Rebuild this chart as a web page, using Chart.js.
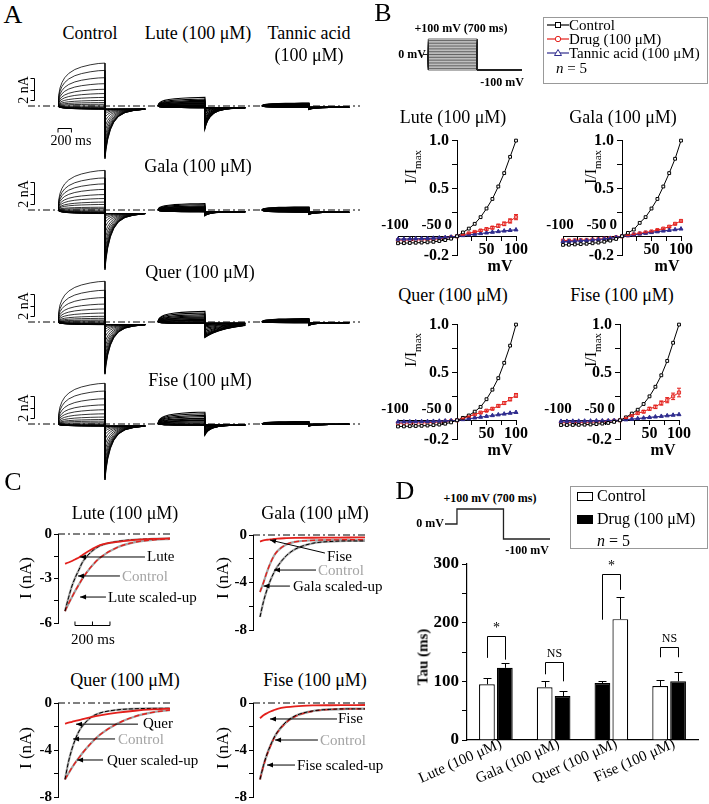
<!DOCTYPE html>
<html>
<head>
<meta charset="utf-8">
<script src="https://cdn.jsdelivr.net/npm/chart.js@4.4.0/dist/chart.umd.min.js"></script>
<style>
  body { margin: 0; background: #fff; }
  #fig { position: relative; width: 709px; height: 804px; overflow: hidden;
         font-family: 'Liberation Serif', 'Times New Roman', serif; color: #000; }
  #fig canvas { position: absolute; }
  .t { position: absolute; white-space: nowrap; line-height: 1; }
  .box { position: absolute; border: 1px solid #999; box-sizing: border-box; }
</style>
</head>
<body>
<div id="fig"></div>
<script>
(function() {

  "use strict";

  // ---------- data ----------
  var sweepMV = [-100,-90,-80,-70,-60,-50,-40,-30,-20,-10,0,10,20,30,40,50,60,70,80,90,100];

  // panel B, I/Imax
  var luteCtrl   = [-0.073,-0.072,-0.07,-0.068,-0.066,-0.063,-0.058,-0.05,-0.04,-0.025,0,0.04,0.08,0.13,0.2,0.29,0.39,0.52,0.66,0.83,1.0];
  var luteDrug   = [-0.04,-0.04,-0.039,-0.038,-0.036,-0.034,-0.031,-0.027,-0.02,-0.01,0,0.015,0.03,0.045,0.06,0.075,0.09,0.11,0.13,0.16,0.2];
  var luteErr    = [0,0,0,0,0,0,0,0,0,0,0,0.004,0.005,0.007,0.009,0.011,0.013,0.016,0.019,0.022,0.027];
  var luteTannic = [-0.03,-0.029,-0.028,-0.026,-0.024,-0.022,-0.019,-0.016,-0.012,-0.007,0,0.008,0.015,0.022,0.029,0.036,0.043,0.05,0.056,0.062,0.068];

  var galaCtrl   = [-0.09,-0.088,-0.085,-0.082,-0.078,-0.073,-0.066,-0.057,-0.045,-0.028,0,0.035,0.07,0.14,0.2,0.29,0.39,0.52,0.66,0.81,1.0];
  var galaDrug   = [-0.045,-0.044,-0.042,-0.04,-0.038,-0.035,-0.031,-0.026,-0.02,-0.011,0,0.01,0.02,0.03,0.04,0.05,0.065,0.08,0.1,0.13,0.16];
  var galaErr    = [0,0,0,0,0,0,0,0,0,0,0,0.003,0.003,0.004,0.004,0.005,0.006,0.007,0.008,0.009,0.011];
  var galaTannic = [-0.055,-0.053,-0.05,-0.047,-0.043,-0.039,-0.034,-0.028,-0.02,-0.011,0,0.008,0.016,0.024,0.032,0.04,0.048,0.056,0.063,0.07,0.077];

  var querCtrl   = [-0.065,-0.064,-0.062,-0.06,-0.058,-0.055,-0.051,-0.045,-0.036,-0.022,0,0.025,0.05,0.09,0.14,0.22,0.32,0.44,0.6,0.78,1.0];
  var querDrug   = [-0.03,-0.03,-0.029,-0.028,-0.027,-0.025,-0.022,-0.019,-0.014,-0.008,0,0.02,0.04,0.06,0.08,0.1,0.12,0.15,0.18,0.22,0.26];
  var querErr    = [0,0,0,0,0,0,0,0,0,0,0,0.004,0.005,0.006,0.007,0.008,0.01,0.012,0.014,0.017,0.02];
  var querTannic = [-0.017,-0.016,-0.015,-0.014,-0.013,-0.012,-0.01,-0.008,-0.006,-0.003,0,0.008,0.016,0.025,0.033,0.042,0.05,0.058,0.066,0.075,0.083];

  var fiseCtrl   = [-0.05,-0.05,-0.049,-0.048,-0.046,-0.044,-0.04,-0.035,-0.028,-0.017,0,0.03,0.07,0.11,0.17,0.25,0.35,0.47,0.62,0.81,1.0];
  var fiseDrug   = [-0.025,-0.025,-0.024,-0.023,-0.022,-0.02,-0.018,-0.015,-0.011,-0.006,0,0.025,0.05,0.075,0.09,0.12,0.14,0.18,0.21,0.25,0.29];
  var fiseErr    = [0,0,0,0,0,0,0,0,0,0,0,0.006,0.008,0.01,0.012,0.015,0.018,0.022,0.027,0.034,0.045];
  var fiseTannic = [-0.01,-0.01,-0.009,-0.009,-0.008,-0.007,-0.006,-0.005,-0.004,-0.002,0,0.006,0.012,0.018,0.024,0.03,0.036,0.042,0.048,0.054,0.06];

  var ivXTicks = [-100,-75,-50,-25,0,25,50,75,100];
  var ivYTicks = [-0.2,0,0.25,0.5,0.75,1.0];
  var ivTopLabels = [-100,-50,0];

  // panel A, current traces (nA) built from the I/Imax values above
  var aTimes    = [0,10,30,60,100,160,250,350,480,600,700];
  var aRise     = [0,0.25,0.42,0.55,0.66,0.76,0.85,0.91,0.96,0.99,1.0];
  var aTailT    = [0,15,40,80,130,200,300,420,600];
  var aTailFast = [1,0.82,0.62,0.42,0.27,0.15,0.07,0.03,0];
  var aTailSlow = [1,0.95,0.88,0.78,0.67,0.54,0.4,0.28,0.15];
  var aTailFrac = [0,0,0,0,0,0,0.02,0.05,0.1,0.17,0.26,0.37,0.48,0.59,0.69,0.78,0.85,0.9,0.94,0.97,1.0];
  var aImax     = [3.9,3.6,3.7,3.7];
  var aTailCtrl = [-4.5,-5.1,-4.5,-4.9];
  var aTailDrug = [-1.9,-0.35,-1.3,-0.9];
  var aTailTan  = [-0.2,-0.2,-0.25,-0.15];

  // panel B / D voltage protocols
  var protoT  = [-75,0,0,700,700,1340];
  var protoT2 = [-180,0,0,700,700,1400];
  var protoV  = [0,0,100,100,-100,-100];

  // panel C, tail currents (nA)
  var tC = [0,20,40,60,80,100,150,200,300,400,500,600];
  var cLuteCtrl   = [-5.2,-4.3,-3.5,-2.9,-2.4,-1.9,-1.2,-0.8,-0.5,-0.38,-0.33,-0.3];
  var cLuteScaled = [-5.2,-4.7,-4.25,-3.8,-3.4,-3.0,-2.2,-1.6,-0.9,-0.55,-0.4,-0.33];
  var cLuteRaw    = [-2.0,-1.92,-1.82,-1.7,-1.58,-1.42,-1.05,-0.75,-0.53,-0.4,-0.33,-0.3];
  var cGalaCtrl   = [-6.9,-5.6,-4.6,-3.8,-3.15,-2.65,-1.75,-1.2,-0.7,-0.55,-0.5,-0.5];
  var cGalaScaled = [-4.8,-4.0,-3.1,-2.35,-1.75,-1.35,-0.8,-0.58,-0.45,-0.42,-0.4,-0.4];
  var cGalaRaw    = [-0.55,-0.45,-0.4,-0.36,-0.33,-0.3,-0.27,-0.25,-0.23,-0.22,-0.21,-0.2];
  var cQuerCtrl   = [-6.5,-5.0,-3.9,-3.05,-2.4,-1.95,-1.2,-0.85,-0.58,-0.49,-0.46,-0.45];
  var cQuerScaled = [-6.5,-6.0,-5.5,-5.05,-4.65,-4.25,-3.4,-2.7,-1.75,-1.15,-0.8,-0.6];
  var cQuerRaw    = [-1.75,-1.68,-1.6,-1.52,-1.45,-1.38,-1.2,-1.05,-0.82,-0.66,-0.55,-0.48];
  var cFiseCtrl   = [-6.5,-5.3,-4.35,-3.6,-2.95,-2.45,-1.6,-1.1,-0.68,-0.54,-0.5,-0.5];
  var cFiseScaled = [-6.5,-5.35,-4.4,-3.65,-3.0,-2.5,-1.65,-1.15,-0.7,-0.55,-0.5,-0.5];
  var cFiseRaw    = [-1.3,-1.05,-0.87,-0.72,-0.6,-0.5,-0.36,-0.28,-0.21,-0.19,-0.18,-0.17];
  var cTicks6 = [-6,-4.5,-3,-1.5,0];
  var cTicks8 = [-8,-6,-4,-2,0];

  // panel D, tau (ms)
  var drugs     = ['Lute (100 μM)', 'Gala (100 μM)', 'Quer (100 μM)', 'Fise (100 μM)'];
  var tauFirst  = [95, 90, 97, 92];
  var tauFirstErr = [10, 10, 4, 10];
  var tauSecond = [123, 75, 206, 100];
  var tauSecondErr = [9, 8, 37, 16];
  var firstFill  = ['#fff', '#fff', '#000', '#fff'];
  var secondFill = ['#000', '#000', '#fff', '#000'];
  var sigTop   = [177, 133, 283, 159];
  var sigLeft  = [140, 112, 205, 141];
  var sigRight = [137, 100, 256, 141];
  var sigMark  = ['*', 'NS', '*', 'NS'];
  var tauTicks = [0,50,100,150,200,250,300];

  // ---------- helpers ----------
  var RED = '#e3201c', BLUE = '#2f2c8e', GRAY = '#a4a4a4';
  var SERIF = "'Liberation Serif', 'Times New Roman', serif";

  Chart.defaults.font.family = SERIF;
  Chart.defaults.color = '#000';
  Chart.defaults.animation = false;
  Chart.defaults.responsive = false;
  Chart.defaults.events = [];
  Chart.defaults.plugins.legend.display = false;
  Chart.defaults.plugins.tooltip.enabled = false;
  Chart.defaults.elements.point.radius = 0;

  var fig = document.getElementById('fig');

  var txt = function(s, x, y, size, opt) {
    opt = opt || {};
    var d = document.createElement('div');
    d.className = 't';
    d.innerHTML = s;
    d.style.left = x + 'px';
    d.style.top = y + 'px';
    d.style.fontSize = size + 'px';
    if (opt.bold) d.style.fontWeight = 'bold';
    if (opt.color) d.style.color = opt.color;
    var ax = opt.align === 'left' ? '0' : (opt.align === 'right' ? '-100%' : '-50%');
    d.style.transform = 'translate(' + ax + ',-50%)' + (opt.rot ? ' rotate(' + opt.rot + 'deg)' : '');
    fig.appendChild(d);
  };

  // canvas whose chart area is exactly l..r, t..b
  var place = function(l, t, r, b, pad) {
    var c = document.createElement('canvas');
    var x0 = Math.round(l - pad[0]), y0 = Math.round(t - pad[1]);
    var w = Math.round(r + pad[2]) - x0, h = Math.round(b + pad[3]) - y0;
    c.width = w; c.height = h;
    c.style.left = x0 + 'px'; c.style.top = y0 + 'px';
    fig.appendChild(c);
    return { el: c, padding: { left: l - x0, top: t - y0, right: x0 + w - r, bottom: y0 + h - b } };
  };

  // axes placed at a data value take no room; edge axes take exactly the padding given to them
  var zeroFit = function(s) { if (s.isHorizontal()) s.height = 0; else s.width = 0; };
  var sizeFit = function(n) {
    return function(s) {
      if (s.isHorizontal()) s.height = n; else s.width = n;
      s.paddingLeft = 0; s.paddingRight = 0; s.paddingTop = 0; s.paddingBottom = 0;
    };
  };
  var fixTicks = function(list) { return function(s) { s.ticks = list.map(function(v) { return { value: v }; }); }; };
  var xy = function(xs, ys) { return xs.map(function(x, i) { return { x: x, y: ys[i] }; }); };

  // ---------- panel A ----------
  var aBase = [106, 210, 322, 424];
  var aLeft = 28, aRight = 360, aStartPx = 58;
  var aPx = 0.0671, aPy = 11;
  var aColStart = [0, 1490, 3040];
  var rowIV = [[luteCtrl, luteDrug, luteTannic], [galaCtrl, galaDrug, galaTannic],
               [querCtrl, querDrug, querTannic], [fiseCtrl, fiseDrug, fiseTannic]];

  var aBars = function(r) {
    return {
      id: 'aBars',
      afterDatasetsDraw: function(chart) {
        var xs = chart.scales.x, ys = chart.scales.y, ctx = chart.ctx;
        ctx.save();
        ctx.strokeStyle = '#000'; ctx.lineWidth = 1;
        var x = Math.round(xs.getPixelForValue(-360)) + 0.5;
        var y1 = Math.round(ys.getPixelForValue(2.55)) + 0.5, y2 = Math.round(ys.getPixelForValue(0.55)) + 0.5;
        var ym = Math.round((y1 + y2) / 2) + 0.5;
        ctx.beginPath();
        ctx.moveTo(x - 4, y1); ctx.lineTo(x, y1); ctx.lineTo(x, y2); ctx.lineTo(x - 4, y2);
        ctx.moveTo(x - 4, ym); ctx.lineTo(x, ym);
        if (r === 0) {
          var h1 = xs.getPixelForValue(0), h2 = xs.getPixelForValue(200), hy = Math.round(ys.getPixelForValue(-2)) + 0.5;
          ctx.moveTo(h1, hy + 4); ctx.lineTo(h1, hy); ctx.lineTo(h2, hy); ctx.lineTo(h2, hy + 4);
        }
        ctx.stroke();
        ctx.restore();
      }
    };
  };

  var traceRow = function(r) {
    var base = aBase[r];
    var box = place(aLeft, base - 55, aRight, base + 65, [0, 0, 0, 0]);
    var tails = [aTailCtrl[r], aTailDrug[r], aTailTan[r]];
    var xmin = -(aStartPx - aLeft) / aPx, xmax = xmin + (aRight - aLeft) / aPx;
    var ds = [{ data: [{ x: xmin, y: 0 }, { x: xmax, y: 0 }], borderColor: '#000', borderWidth: 1, borderDash: [7, 3, 2, 3] }];
    rowIV[r].forEach(function(iv, c) {
      var hold = iv[0] * aImax[r];
      var shape = (r === 2 && c === 1) ? aTailSlow : aTailFast;
      iv.forEach(function(v, i) {
        var pts = aTimes.map(function(t, k) { return { x: aColStart[c] + t, y: v * aImax[r] * aRise[k] }; });
        aTailT.forEach(function(t, k) { pts.push({ x: aColStart[c] + 700 + t, y: hold + tails[c] * aTailFrac[i] * shape[k] }); });
        ds.push({ data: pts, borderColor: '#000', borderWidth: c === 0 ? 0.8 : 1.1 });
      });
    });
    new Chart(box.el, {
      type: 'line',
      data: { datasets: ds },
      options: {
        layout: { padding: box.padding },
        parsing: false,
        scales: {
          x: { type: 'linear', display: false, min: xmin, max: xmax },
          y: { type: 'linear', display: false, min: -65 / aPy, max: 55 / aPy }
        }
      },
      plugins: [aBars(r)]
    });
  };
  for (var r = 0; r < 4; r++) traceRow(r);

  txt('A', 13, 15, 26);
  txt('Control', 90, 33, 18);
  txt('Lute (100 μM)', 198, 33, 18);
  txt('Tannic acid', 309, 33, 18);
  txt('(100 μM)', 309, 55, 18);
  txt('Gala (100 μM)', 198, 166, 18);
  txt('Quer (100 μM)', 200, 272, 18);
  txt('Fise (100 μM)', 200, 380, 18);
  aBase.forEach(function(b) { txt('2 nA', 24, b - 16, 14, { rot: -90 }); });
  txt('200 ms', 71, 141, 14);

  // ---------- panel B ----------
  var protoChart = function(l, t, r, b, xmin, xmax, times, volts, width) {
    var box = place(l, t, r, b, [2, 2, 2, 2]);
    var ds = volts.map(function(v) {
      var ys = protoV.map(function(p, i) { return (i === 2 || i === 3) ? v : p; });
      return { data: xy(times, ys), borderColor: '#222', borderWidth: width, clip: false };
    });
    new Chart(box.el, {
      type: 'line',
      data: { datasets: ds },
      options: {
        layout: { padding: box.padding },
        scales: {
          x: { type: 'linear', display: false, min: xmin, max: xmax },
          y: { type: 'linear', display: false, min: -100, max: 100 }
        }
      }
    });
  };
  protoChart(423, 39, 522, 70, -75, 1340, protoT, sweepMV, 0.7);

  var ivExtras = {
    id: 'ivExtras',
    afterDatasetsDraw: function(chart) {
      var ctx = chart.ctx, xs = chart.scales.x, ys = chart.scales.y;
      ctx.save();
      chart.data.datasets.forEach(function(d) {
        if (!d.err) return;
        ctx.strokeStyle = d.borderColor; ctx.lineWidth = 1;
        d.data.forEach(function(p, i) {
          var e = d.err[i];
          if (!e) return;
          var x = xs.getPixelForValue(p.x), y1 = ys.getPixelForValue(p.y - e), y2 = ys.getPixelForValue(p.y + e);
          ctx.beginPath();
          ctx.moveTo(x, y1); ctx.lineTo(x, y2);
          ctx.moveTo(x - 2, y1); ctx.lineTo(x + 2, y1);
          ctx.moveTo(x - 2, y2); ctx.lineTo(x + 2, y2);
          ctx.stroke();
        });
      });
      ctx.fillStyle = '#000';
      ctx.font = 'bold 15px ' + SERIF;
      ctx.textBaseline = 'bottom';
      var y0 = ys.getPixelForValue(0) - 4;
      ivTopLabels.forEach(function(v) {
        ctx.textAlign = v === 0 ? 'right' : 'center';
        ctx.fillText(String(v), xs.getPixelForValue(v) + (v === 0 ? -5 : (v === -50 ? 4 : -3)), y0);
      });
      ctx.restore();
    }
  };

  var ivChart = function(l, t, ctrl, drug, err, tannic) {
    var box = place(l, t, l + 118, t + 120, [22, 10, 18, 10]);
    new Chart(box.el, {
      type: 'line',
      data: {
        datasets: [
          { data: xy(sweepMV, ctrl), borderColor: '#000', backgroundColor: '#fff', borderWidth: 1,
            pointStyle: 'rect', pointRadius: 2, pointBorderWidth: 1, clip: false },
          { data: xy(sweepMV, tannic), borderColor: BLUE, backgroundColor: BLUE, borderWidth: 1.2,
            pointStyle: 'triangle', pointRadius: 2.3, pointBorderWidth: 1, clip: false },
          { data: xy(sweepMV, drug), err: err, borderColor: RED, backgroundColor: '#fff', borderWidth: 1,
            pointStyle: 'rect', pointRadius: 2.2, pointBorderWidth: 0.9, clip: false }
        ]
      },
      options: {
        layout: { padding: box.padding },
        scales: {
          x: { type: 'linear', min: -100, max: 100, position: { y: 0 }, afterFit: zeroFit,
               afterBuildTicks: fixTicks(ivXTicks),
               ticks: { autoSkip: false, maxRotation: 0, padding: 0, font: { size: 16, weight: 'bold' },
                        callback: function(v) { return (v === 50 || v === 100) ? String(v) : ''; } },
               grid: { drawOnChartArea: false, tickLength: 4, color: '#000' },
               border: { color: '#000', width: 1 } },
          y: { type: 'linear', min: -0.2, max: 1.0, position: { x: 0 }, afterFit: zeroFit,
               afterBuildTicks: fixTicks(ivYTicks),
               ticks: { autoSkip: false, font: { size: 16, weight: 'bold' },
                        callback: function(v) {
                          return v === 1 ? '1.0\u2002' : (v === 0.5 ? '0.5\u2002' : (v === -0.2 ? '-0.2\u2002' : ''));
                        } },
               grid: { drawOnChartArea: false, tickLength: 5, color: '#000' },
               border: { color: '#000', width: 1 } }
        }
      },
      plugins: [ivExtras]
    });
  };
  ivChart(398, 138, luteCtrl, luteDrug, luteErr, luteTannic);
  ivChart(563, 138, galaCtrl, galaDrug, galaErr, galaTannic);
  ivChart(398, 322, querCtrl, querDrug, querErr, querTannic);
  ivChart(561, 322, fiseCtrl, fiseDrug, fiseErr, fiseTannic);

  txt('B', 383, 13, 26);
  txt('+100 mV (700 ms)', 461, 28, 12, { bold: true });
  txt('0 mV', 426, 54, 12, { bold: true, align: 'right' });
  txt('-100 mV', 502, 82, 12, { bold: true });

  var bl = document.createElement('div');
  bl.className = 'box';
  bl.style.cssText += 'left:543px;top:17px;width:165px;height:67px;';
  fig.appendChild(bl);
  var legIcon = function(y, color, mark) {
    fig.insertAdjacentHTML('beforeend',
      '<svg width="22" height="10" style="position:absolute;left:547px;top:' + (y - 5) + 'px">' +
      '<line x1="0" y1="5" x2="22" y2="5" stroke="' + color + '" stroke-width="1.2"/>' + mark + '</svg>');
  };
  legIcon(25, '#000', '<rect x="8.5" y="2.5" width="5" height="5" fill="#fff" stroke="#000"/>');
  legIcon(39, RED, '<circle cx="11" cy="5" r="2.7" fill="#fff" stroke="' + RED + '"/>');
  legIcon(53, BLUE, '<polygon points="11,1.5 14.5,7.5 7.5,7.5" fill="#fff" stroke="' + BLUE + '"/>');
  txt('Control', 569, 25, 15, { align: 'left' });
  txt('Drug (100 μM)', 569, 39, 15, { align: 'left' });
  txt('Tannic acid (100 μM)', 569, 53, 15, { align: 'left' });
  txt('<i>n</i> = 5', 556, 68, 15, { align: 'left' });

  txt('Lute (100 μM)', 453, 117, 18);
  txt('Gala (100 μM)', 623, 117, 18);
  txt('Quer (100 μM)', 453, 295, 18);
  txt('Fise (100 μM)', 622, 295, 18);
  var imax = 'I/I<sub style="font-size:11px">max</sub>';
  txt(imax, 413, 167, 16, { rot: -90 });
  txt(imax, 593, 167, 16, { rot: -90 });
  txt(imax, 413, 350, 16, { rot: -90 });
  txt(imax, 593, 350, 16, { rot: -90 });
  txt('mV', 500, 266, 16, { bold: true });
  txt('mV', 667, 266, 16, { bold: true });
  txt('mV', 500, 450, 16, { bold: true });
  txt('mV', 663, 450, 16, { bold: true });

  // ---------- panel C ----------
  var cExtras = function(arrows, bar) {
    return {
      id: 'cExtras',
      afterDatasetsDraw: function(chart) {
        var ctx = chart.ctx, xs = chart.scales.x, ys = chart.scales.y;
        ctx.save();
        ctx.strokeStyle = '#000'; ctx.fillStyle = '#000'; ctx.lineWidth = 1;
        arrows.forEach(function(a) {
          var x1 = xs.getPixelForValue(a[0]), y1 = ys.getPixelForValue(a[1]);
          var x2 = xs.getPixelForValue(a[2]), y2 = ys.getPixelForValue(a[3]);
          var ang = Math.atan2(y2 - y1, x2 - x1);
          ctx.beginPath(); ctx.moveTo(x1, y1); ctx.lineTo(x2, y2); ctx.stroke();
          ctx.beginPath();
          ctx.moveTo(x2, y2);
          ctx.lineTo(x2 - 6 * Math.cos(ang) + 2.5 * Math.sin(ang), y2 - 6 * Math.sin(ang) - 2.5 * Math.cos(ang));
          ctx.lineTo(x2 - 6 * Math.cos(ang) - 2.5 * Math.sin(ang), y2 - 6 * Math.sin(ang) + 2.5 * Math.cos(ang));
          ctx.closePath(); ctx.fill();
        });
        if (bar) {
          var b1 = xs.getPixelForValue(bar[0]), b2 = xs.getPixelForValue(bar[1]);
          var bm = (b1 + b2) / 2, by = Math.round(ys.getPixelForValue(bar[2])) + 0.5;
          ctx.beginPath();
          ctx.moveTo(b1, by - 4); ctx.lineTo(b1, by); ctx.lineTo(b2, by); ctx.lineTo(b2, by - 4);
          ctx.moveTo(bm, by); ctx.lineTo(bm, by - 4);
          ctx.stroke();
        }
        ctx.restore();
      }
    };
  };

  var decayChart = function(l, t, r, b, ymin, ticks, labels, ctrl, scaled, raw, arrows, bar) {
    var box = place(l, t, r, b, [0, 10, 6, 10]);
    box.el.style.left = (l - 30) + 'px';
    box.el.width += 30;
    new Chart(box.el, {
      type: 'line',
      data: {
        datasets: [
          { data: xy(tC, raw), borderColor: RED, borderWidth: 1.8, cubicInterpolationMode: 'monotone', clip: false },
          { data: xy(tC, ctrl), borderColor: '#000', borderWidth: 1, borderDash: [4, 2], cubicInterpolationMode: 'monotone', clip: false },
          { data: xy(tC, scaled), borderColor: RED, borderWidth: 1.4, borderDash: [5, 3], cubicInterpolationMode: 'monotone', clip: false },
          { data: xy(tC, ctrl), borderColor: GRAY, borderWidth: 2.2, cubicInterpolationMode: 'monotone', clip: false },
          { data: xy(tC, scaled), borderColor: GRAY, borderWidth: 2.2, cubicInterpolationMode: 'monotone', clip: false },
          { data: [{ x: -40, y: 0 }, { x: 600, y: 0 }], borderColor: '#000', borderWidth: 1, borderDash: [7, 3, 2, 3], clip: false }
        ]
      },
      options: {
        layout: { padding: box.padding },
        scales: {
          x: { type: 'linear', display: false, min: -40, max: 600 },
          y: { type: 'linear', min: ymin, max: 0, afterFit: sizeFit(30), afterBuildTicks: fixTicks(ticks),
               ticks: { autoSkip: false, padding: 2, font: { size: 15, weight: 'bold' },
                        callback: function(v) { return labels.indexOf(v) >= 0 ? String(v) : ''; } },
               grid: { drawOnChartArea: false, tickLength: 4, color: '#000' },
               border: { color: '#000', width: 1 } }
        }
      },
      plugins: [cExtras(arrows, bar)]
    });
  };

  decayChart(58, 534, 170, 623, -6, cTicks6, [0, -3, -6], cLuteCtrl, cLuteScaled, cLuteRaw,
    [[457, -1.55, 86, -1.55], [314, -2.83, 74, -2.83], [234, -4.25, 86, -4.25]], [57, 257, -6.15]);
  decayChart(253, 535, 365, 630, -8, cTicks8, [0, -4, -8], cGalaCtrl, cGalaScaled, cGalaRaw,
    [[371, -1.52, 57, -0.42], [320, -2.95, 80, -2.95], [171, -4.3, 20, -4.3]], null);
  decayChart(58, 703, 170, 797, -8, cTicks8, [0, -4, -8], cQuerCtrl, cQuerScaled, cQuerRaw,
    [[417, -1.8, 63, -1.8], [286, -3.06, 46, -3.06], [217, -4.85, 69, -4.85]], null);
  decayChart(253, 703, 365, 797, -8, cTicks8, [0, -4, -8], cFiseCtrl, cFiseScaled, cFiseRaw,
    [[440, -1.36, 57, -1.36], [331, -3.15, 86, -3.15], [200, -5.28, 40, -5.28]], null);

  txt('C', 13, 482, 26);
  txt('Lute (100 μM)', 125, 513, 18);
  txt('Gala (100 μM)', 315, 513, 18);
  txt('Quer (100 μM)', 125, 680, 18);
  txt('Fise (100 μM)', 315, 680, 18);
  txt('I (nA)', 25, 578, 17, { rot: -90 });
  txt('I (nA)', 222, 578, 17, { rot: -90 });
  txt('I (nA)', 25, 748, 17, { rot: -90 });
  txt('I (nA)', 222, 748, 17, { rot: -90 });
  txt('200 ms', 93, 639, 15);
  txt('Lute', 147, 556, 15, { align: 'left' });
  txt('Control', 122, 576, 15, { align: 'left', color: GRAY });
  txt('Lute scaled-up', 108, 597, 15, { align: 'left' });
  txt('Fise', 327, 556, 15, { align: 'left' });
  txt('Control', 318, 570, 15, { align: 'left', color: GRAY });
  txt('Gala scaled-up', 293, 586, 15, { align: 'left' });
  txt('Quer', 143, 723, 15, { align: 'left' });
  txt('Control', 118, 739, 15, { align: 'left', color: GRAY });
  txt('Quer scaled-up', 107, 760, 15, { align: 'left' });
  txt('Fise', 338, 718, 15, { align: 'left' });
  txt('Control', 320, 740, 15, { align: 'left', color: GRAY });
  txt('Fise scaled-up', 297, 765, 15, { align: 'left' });

  // ---------- panel D ----------
  protoChart(445, 509, 550, 539, -180, 1400, protoT2, [100], 1.3);

  var dExtras = {
    id: 'dExtras',
    afterDatasetsDraw: function(chart) {
      var ctx = chart.ctx, ys = chart.scales.y;
      ctx.save();
      ctx.strokeStyle = '#000'; ctx.lineWidth = 1;
      [0, 1].forEach(function(i) {
        var d = chart.data.datasets[i];
        chart.getDatasetMeta(i).data.forEach(function(bar, j) {
          var x = Math.round(bar.x) + 0.5;
          var y1 = ys.getPixelForValue(d.data[j]), y2 = Math.round(ys.getPixelForValue(d.data[j] + d.err[j])) + 0.5;
          ctx.beginPath();
          ctx.moveTo(x, y1); ctx.lineTo(x, y2);
          ctx.moveTo(x - 4, y2); ctx.lineTo(x + 4, y2);
          ctx.stroke();
        });
      });
      var m0 = chart.getDatasetMeta(0).data, m1 = chart.getDatasetMeta(1).data;
      ctx.fillStyle = '#000';
      ctx.textAlign = 'center'; ctx.textBaseline = 'bottom';
      sigTop.forEach(function(v, j) {
        var xa = Math.round(m0[j].x) + 0.5, xb = Math.round(m1[j].x) + 0.5;
        var yt = Math.round(ys.getPixelForValue(v)) + 0.5;
        ctx.beginPath();
        ctx.moveTo(xa, ys.getPixelForValue(sigLeft[j])); ctx.lineTo(xa, yt);
        ctx.lineTo(xb, yt); ctx.lineTo(xb, ys.getPixelForValue(sigRight[j]));
        ctx.stroke();
        ctx.font = (sigMark[j] === '*' ? '14px ' : '12px ') + SERIF;
        ctx.fillText(sigMark[j], (xa + xb) / 2, yt - (sigMark[j] === '*' ? 1 : 3));
      });
      ctx.restore();
    }
  };

  // y axis takes the 60 px left of the plot, x axis the 60 px under it
  var dBox = place(467, 564, 698, 740, [60, 12, 8, 60]);
  new Chart(dBox.el, {
    type: 'bar',
    data: {
      labels: drugs,
      datasets: [
        { data: tauFirst, err: tauFirstErr, backgroundColor: firstFill, borderColor: '#000', borderWidth: 1.2,
          categoryPercentage: 0.62, barPercentage: 0.88 },
        { data: tauSecond, err: tauSecondErr, backgroundColor: secondFill, borderColor: '#000', borderWidth: 1.2,
          categoryPercentage: 0.62, barPercentage: 0.88 }
      ]
    },
    options: {
      layout: { padding: { left: 0, top: dBox.padding.top, right: dBox.padding.right, bottom: 0 } },
      scales: {
        x: { afterFit: sizeFit(dBox.padding.bottom),
             ticks: { autoSkip: false, minRotation: 24, maxRotation: 24, padding: -13, labelOffset: 5,
                      font: { size: 15 } },
             grid: { display: false },
             border: { color: '#000', width: 1.2 } },
        y: { min: 0, max: 300, afterFit: sizeFit(dBox.padding.left), afterBuildTicks: fixTicks(tauTicks),
             ticks: { autoSkip: false, padding: 3, font: { size: 17, weight: 'bold' },
                      callback: function(v) { return v % 100 === 0 ? String(v) : ''; } },
             grid: { drawOnChartArea: false, tickLength: 5, color: '#000' },
             border: { color: '#000', width: 1.2 } }
      }
    },
    plugins: [dExtras]
  });

  txt('D', 405, 491, 26);
  txt('+100 mV (700 ms)', 490, 498, 12, { bold: true });
  txt('0 mV', 444, 523, 12, { bold: true, align: 'right' });
  txt('-100 mV', 527, 550, 12, { bold: true });
  txt('Tau (ms)', 423, 657, 15, { bold: true, rot: -90 });

  var dl = document.createElement('div');
  dl.className = 'box';
  dl.style.cssText += 'left:570px;top:486px;width:138px;height:63px;';
  fig.appendChild(dl);
  fig.insertAdjacentHTML('beforeend',
    '<div style="position:absolute;left:577px;top:492px;width:16px;height:9px;border:1px solid #000;box-sizing:border-box;background:#fff"></div>' +
    '<div style="position:absolute;left:577px;top:515px;width:16px;height:9px;background:#000"></div>');
  txt('Control', 597, 496, 16, { align: 'left' });
  txt('Drug (100 μM)', 597, 519, 16, { align: 'left' });
  txt('<i>n</i> = 5', 597, 541, 16, { align: 'left' });

})();
</script>
</body>
</html>
